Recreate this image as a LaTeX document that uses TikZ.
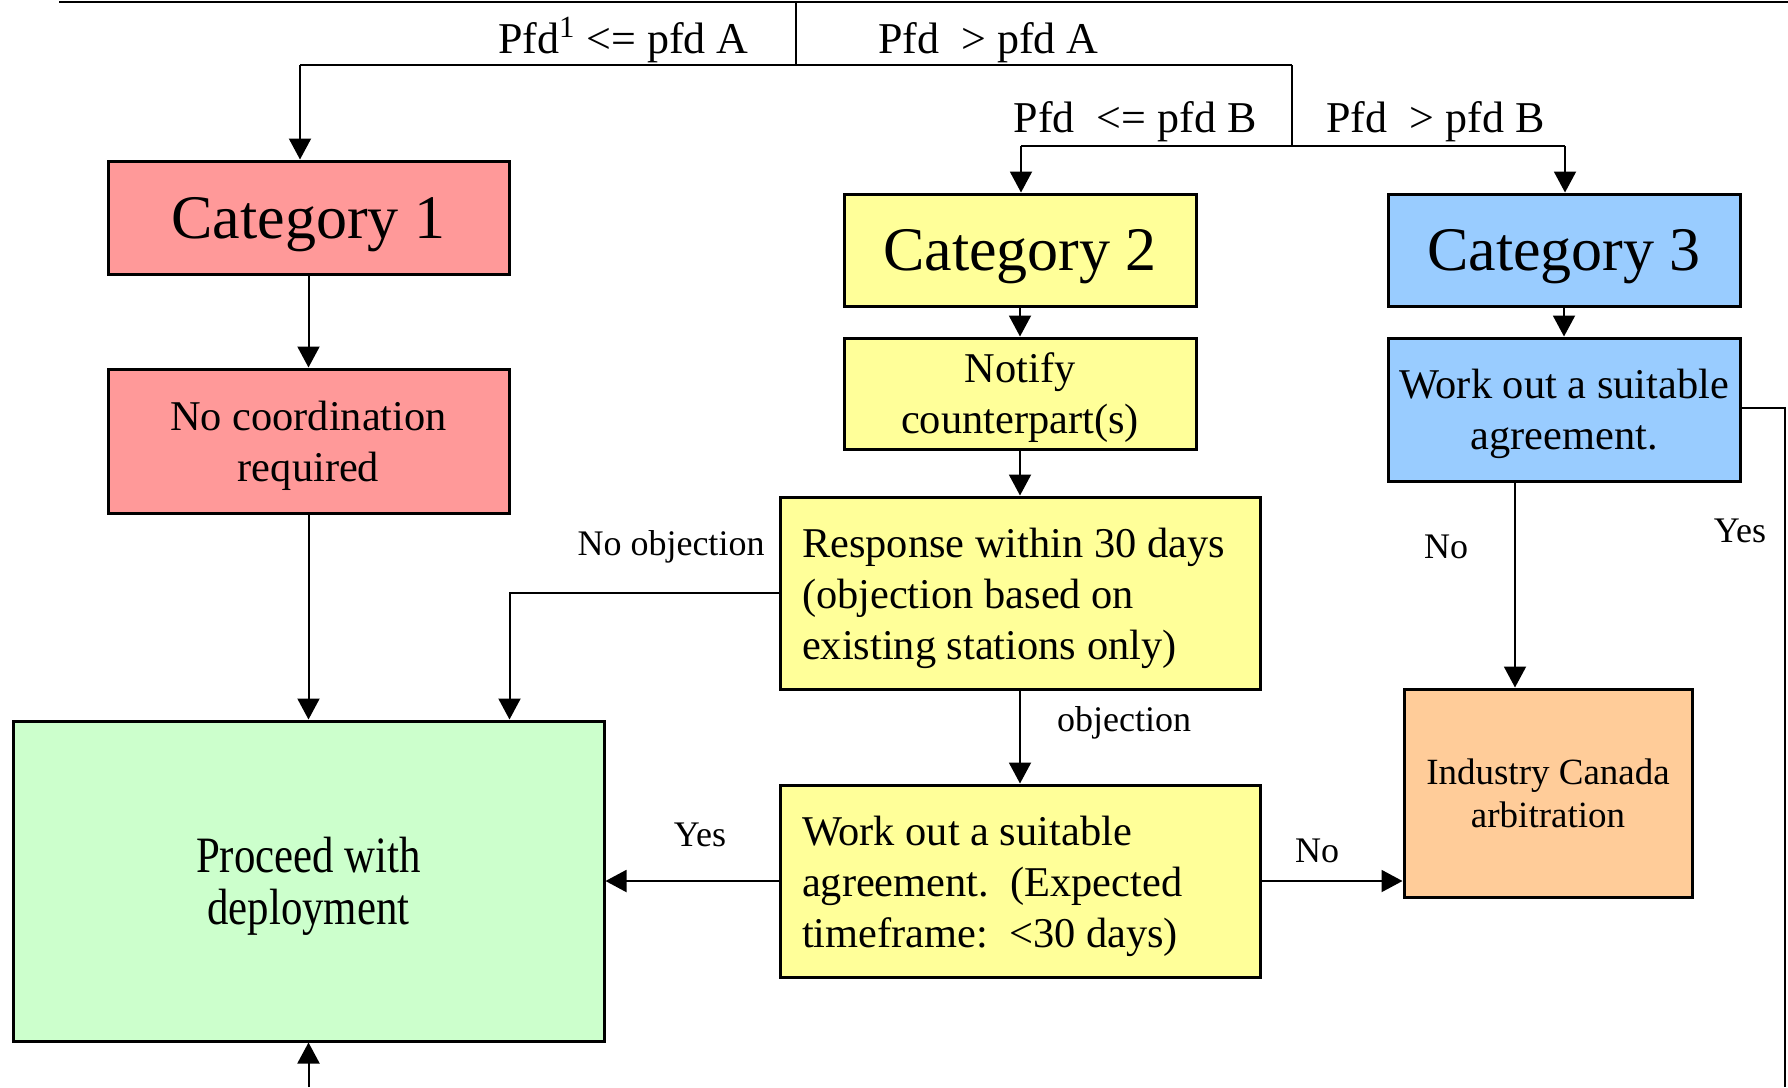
\documentclass[tikz,border=0pt]{standalone}
\usepackage{fontspec}
\setmainfont{Liberation Serif}
\newfontfamily\narrowserif[FakeStretch=0.84]{Liberation Serif}
\usetikzlibrary{arrows.meta,calc}
\definecolor{catred}{HTML}{FF9999}
\definecolor{catyellow}{HTML}{FFFF99}
\definecolor{catblue}{HTML}{99CCFF}
\definecolor{procgreen}{HTML}{CCFFCC}
\definecolor{arborange}{HTML}{FFCC99}

\begin{document}
\begin{tikzpicture}[x=0.5pt, y=-0.5pt,
    box/.style={draw, line width=1.5pt, inner sep=0pt, text depth=0pt, align=center, font=\fontsize{21.2}{25.5}\selectfont},
    catbox/.style={box, font=\fontsize{31}{36}\selectfont},
    leftbox/.style={box, align=flush left, text width=218pt, inner xsep=11pt, minimum height=96pt,
        text height=17pt, text depth=52.6pt},
    wire/.style={line width=1pt},
    arr/.style={wire, -{Triangle[length=10.5pt, width=11pt]}},
    lbl/.style={inner sep=0pt, font=\fontsize{18}{22}\selectfont},
    cond/.style={inner sep=0pt, font=\fontsize{22}{26}\selectfont}]
    \useasboundingbox (0,0) rectangle (1788,1087);
    % boxes
    \node[catbox, fill=catred, minimum width=200.5pt, minimum height=56.5pt](cat1)at(308.5,217.5){Category 1};
    \node[box, fill=catred, minimum width=200.5pt, minimum height=72pt](nocoord)at(308.5,441){No coordination\\required};
    \node[box, fill=procgreen, minimum width=295.5pt, minimum height=160pt, font=\narrowserif\fontsize{25.5}{26}\selectfont](proceed)at(308.5,881){Proceed with\\deployment};
    \node[catbox, fill=catyellow, minimum width=176pt, minimum height=56pt](cat2)at(1020,250){Category 2};
    \node[box, fill=catyellow, minimum width=176pt, minimum height=55.5pt](notify)at(1020,393.5){Notify\\counterpart(s)};
    \node[leftbox, fill=catyellow](response)at(1020,593){Response within 30 days\\(objection based on\\existing stations only)};
    \node[leftbox, fill=catyellow](work2)at(1020,881){Work out a suitable\\agreement.~~(Expected\\timeframe:~~<30 days)};
    \node[catbox, fill=catblue, minimum width=176pt, minimum height=56pt](cat3)at(1564,250){Category 3};
    \node[box, fill=catblue, minimum width=176pt, minimum height=71.5pt](work3)at(1564,409.5){Work out a suitable\\agreement.};
    \node[box, fill=arborange, minimum width=144pt, minimum height=104pt, text depth=, font=\fontsize{18.5}{21.5}\selectfont](ica)at(1548,793){Industry Canada\\arbitration};
    % pfd split
    \coordinate(topL)at(59,2);
    \coordinate(topR)at(1788,2);
    \coordinate(splitA)at(796,2);
    \coordinate(splitAb)at(796,65);
    \coordinate(branchA1)at(300,65);
    \coordinate(branchA2)at(1292,65);
    \coordinate(splitB)at(1292,146);
    \coordinate(branchB1)at(1021,146);
    \coordinate(branchB2)at(1565,146);
    \path[draw, line width=1.3pt](topL)to(topR);
    \path[draw, wire](splitA)to(splitAb);
    \path[draw, wire](branchA1)to(branchA2);
    \path[draw, wire](branchA2)to(splitB);
    \path[draw, wire](branchB1)to(branchB2);
    \path[draw, arr](branchA1)to(branchA1 |- cat1.north);
    \path[draw, arr](branchB1)to(branchB1 |- cat2.north);
    \path[draw, arr](branchB2)to(branchB2 |- cat3.north);
    \node[cond, anchor=base east](condA1)at(749,53){Pfd\textsuperscript{1} <= pfd A};
    \node[cond, anchor=base west](condA2)at(878,53){Pfd~~> pfd A};
    \node[cond, anchor=base east](condB1)at(1257,132){Pfd~~<= pfd B};
    \node[cond, anchor=base west](condB2)at(1326,132){Pfd~~> pfd B};
    % category 1
    \path[draw, arr](cat1)to(nocoord);
    \path[draw, arr](nocoord)to(proceed);
    % category 2
    \path[draw, arr](cat2)to(notify);
    \path[draw, arr](notify)to(response);
    \path[draw, arr](response.west)-|([xshift=100.5pt]proceed.north);
    \path[draw, arr](response)to(work2);
    \path[draw, arr](work2.west)to(proceed.east |- work2.west);
    \path[draw, arr](work2.east)to(ica.west |- work2.east);
    \node[lbl](noobj)at(671,547){No objection};
    \node[lbl](obj)at(1124,723){objection};
    \node[lbl](yes2)at(700,835){Yes};
    \node[lbl](no2)at(1317,851){No};
    % category 3
    \path[draw, arr](cat3)to(work3);
    \path[draw, arr]([xshift=-24.5pt]work3.south)to([xshift=-24.5pt]work3.south |- ica.north);
    \coordinate(yesR)at(1785,408);
    \coordinate(yesRb)at(1785,1087);
    \path[draw, line width=0.8pt](work3.east |- yesR)to(yesR)to(yesRb);
    \node[lbl](no3)at(1446,547){No};
    \node[lbl](yes3)at(1740,531){Yes};
    % from below
    \coordinate(entry)at(308.5,1087);
    \path[draw, arr](entry)to(proceed);
\end{tikzpicture}
\end{document}
